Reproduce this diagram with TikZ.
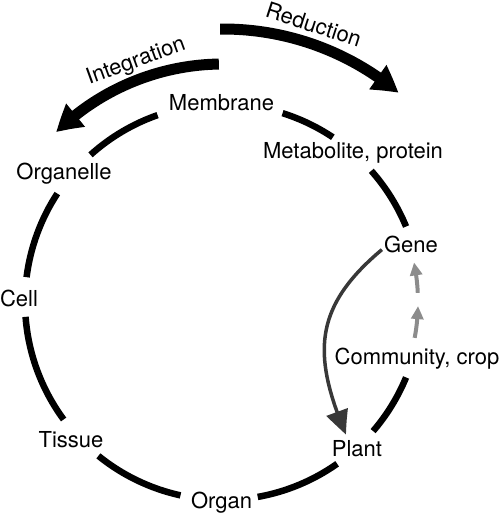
\documentclass[tikz,border=0pt]{standalone}
\usepackage{fontspec}
\setmainfont{TeX Gyre Heros}
\usetikzlibrary{arrows.meta,bending}

\begin{document}
\begin{tikzpicture}[line cap=butt,line join=round,x=1pt,y=1pt,
    lbl/.style={inner sep=2pt,font=\fontsize{22}{26}\selectfont},
    ring/.style={line width=6.5pt,black},
    flow/.style={line width=11pt,black,-{Triangle[length=26pt,width=28pt,bend]}},
    hop/.style={line width=4pt,black!45,-{Triangle[length=13pt,width=12pt,bend]}},
    back/.style={line width=3.5pt,black!78,-{Triangle[length=25pt,width=22pt,bend]}}]
  \useasboundingbox (0,0) rectangle (500,516);
  \coordinate (c) at (223,214);
  % levels
  \node[lbl] (membrane) at (221.5,413) {Membrane};
  \node[lbl] (metabolite) at (353,363) {Metabolite, protein};
  \node[lbl] (gene) at (411,271.5) {Gene};
  \node[lbl] (community) at (417,157) {Community, crop};
  \node[lbl] (plant) at (357,67) {Plant};
  \node[lbl] (organ) at (221.5,13) {Organ};
  \node[lbl] (tissue) at (71,76) {Tissue};
  \node[lbl] (cell) at (19,218) {Cell};
  \node[lbl] (organelle) at (64,342) {Organelle};
  % ring
  \draw[ring] ([shift={(132:198)}]c) arc (132:109.3:198);
  \draw[ring] ([shift={(72.5:198)}]c) arc (72.5:56.3:198);
  \draw[ring] ([shift={(41.5:198)}]c) arc (41.5:22.4:198);
  \draw[ring] ([shift={(-22.4:198)}]c) arc (-22.4:-40.7:198);
  \draw[ring] ([shift={(-54.8:198)}]c) arc (-54.8:-79.9:198);
  \draw[ring] ([shift={(-102.4:198)}]c) arc (-102.4:-129:198);
  \draw[ring] ([shift={(-143.6:198)}]c) arc (-143.6:-175.7:198);
  \draw[ring] ([shift={(172.8:198)}]c) arc (172.8:146.8:198);
  % reduction / integration
  \draw[flow] ([shift={(90.6:273)}]c) arc (90.6:50:273);
  \draw[flow] ([shift={(91:238)}]c) arc (91:134.5:238);
  \node[lbl,rotate=-18] (reduction) at (313.7,491.5) {Reduction};
  \node[lbl,rotate=20] (integration) at (136,454) {Integration};
  % community up to gene, gene back to plant
  \draw[hop] ([shift={(-10.6:195)}]c) arc (-10.6:-1.2:195);
  \draw[hop] ([shift={(2.7:195)}]c) arc (2.7:11.7:195);
  \draw[back] (gene.190) to[out=220,in=113,looseness=1.2] ([shift={(-11,4)}]plant.north);
\end{tikzpicture}
\end{document}
